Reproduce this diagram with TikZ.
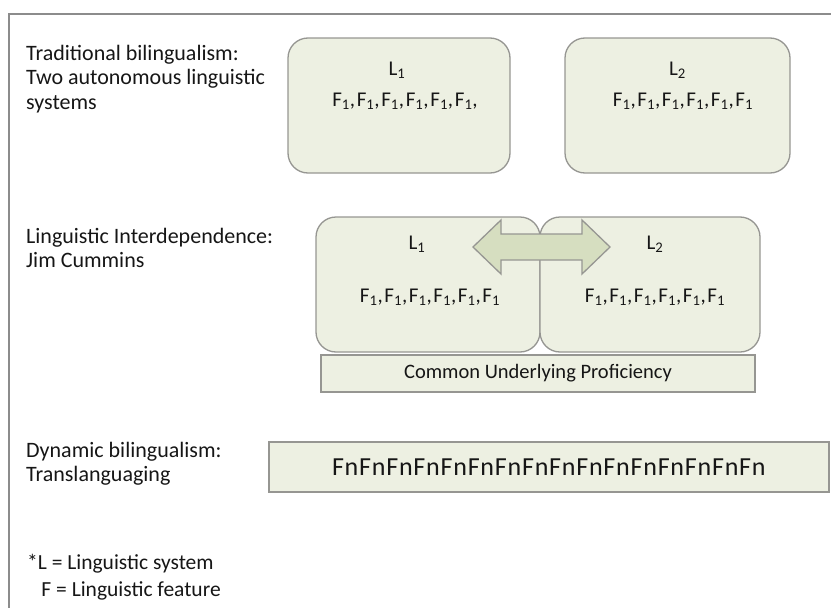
\documentclass[tikz,border=0pt]{standalone}
\usepackage{fontspec}
\setmainfont{Carlito}
\newfontfamily\spacedfont[LetterSpace=8]{Carlito}
\newfontfamily\widefont[LetterSpace=3]{Carlito}

\definecolor{boxfill}{RGB}{237,240,226}
\definecolor{arrowfill}{RGB}{214,222,192}
\definecolor{boxline}{RGB}{150,150,146}
\definecolor{framegray}{RGB}{140,140,140}
\definecolor{txt}{RGB}{22,22,22}

\newcommand{\fsub}{F\textsubscript{1}}

\tikzset{
  langbox/.style={draw=boxline, fill=boxfill, line width=1.3pt, rounded corners=20pt, inner sep=0pt},
  cupbox/.style={draw=boxline, fill=boxfill, line width=1.3pt, inner sep=0pt},
  lbl/.style={anchor=north west, align=left, inner sep=0pt, text=txt, font=\fontsize{22}{24.5}\selectfont},
  sys/.style={inner sep=0pt, text=txt, font=\spacedfont\fontsize{21}{23}\selectfont},
  feat/.style={inner sep=0pt, text=txt, font=\spacedfont\fontsize{21}{23}\selectfont},
}

\begin{document}
\begin{tikzpicture}[x=1pt, y=-1pt]
    \useasboundingbox (0,0) rectangle (831,608);

    % frame
    \draw[framegray, line width=1.8pt] (9,620) -- (9,14) -- (840,14);

    % traditional bilingualism
    \node[lbl] (trad) at (26,45) {Traditional bilingualism:\\Two autonomous linguistic\\systems};
    \node[langbox, minimum width=222pt, minimum height=135pt] (tradA) at (399,105.5) {};
    \node[langbox, minimum width=225pt, minimum height=135pt] (tradB) at (677.5,105.5) {};
    \node[sys] (tradAL) at (397,70) {L\textsubscript{1}};
    \node[feat] (tradAF) at (405,101) {\fsub,\fsub,\fsub,\fsub,\fsub,\fsub,};
    \node[sys] (tradBL) at (677.5,70) {L\textsubscript{2}};
    \node[feat] (tradBF) at (683,101) {\fsub,\fsub,\fsub,\fsub,\fsub,\fsub};

    % linguistic interdependence
    \node[lbl] (inter) at (26,228) {Linguistic Interdependence:\\Jim Cummins};
    \node[langbox, minimum width=224pt, minimum height=135pt] (interA) at (428,284.5) {};
    \node[langbox, minimum width=220pt, minimum height=135pt] (interB) at (650,284.5) {};
    \node[sys] (interAL) at (417,244) {L\textsubscript{1}};
    \node[feat] (interAF) at (430,297) {\fsub,\fsub,\fsub,\fsub,\fsub,\fsub};
    \node[sys] (interBL) at (655,244) {L\textsubscript{2}};
    \node[feat] (interBF) at (655,297) {\fsub,\fsub,\fsub,\fsub,\fsub,\fsub};
    % double arrow between the two systems
    \draw[draw=boxline, fill=arrowfill, line width=1.3pt]
        (473,247) -- (501,220) -- (501,234) -- (582,234) -- (582,220) -- (610,247)
        -- (582,274) -- (582,260) -- (501,260) -- (501,274) -- cycle;
    \node[cupbox, minimum width=434pt, minimum height=37pt, text=txt, font=\fontsize{20.5}{23}\selectfont] (cup) at (538,373.5) {Common Underlying Proficiency};

    % dynamic bilingualism
    \node[lbl] (dyn) at (26,442) {Dynamic bilingualism:\\Translanguaging};
    \node[cupbox, minimum width=560pt, minimum height=50pt, text=txt, font=\widefont\fontsize{26}{30}\selectfont] (trans) at (549,467) {FnFnFnFnFnFnFnFnFnFnFnFnFnFnFnFn};

    % key
    \node[lbl, font=\fontsize{21.5}{27}\selectfont] (key) at (27,554) {*L = Linguistic system\\\phantom{*}\,F = Linguistic feature};
\end{tikzpicture}
\end{document}
